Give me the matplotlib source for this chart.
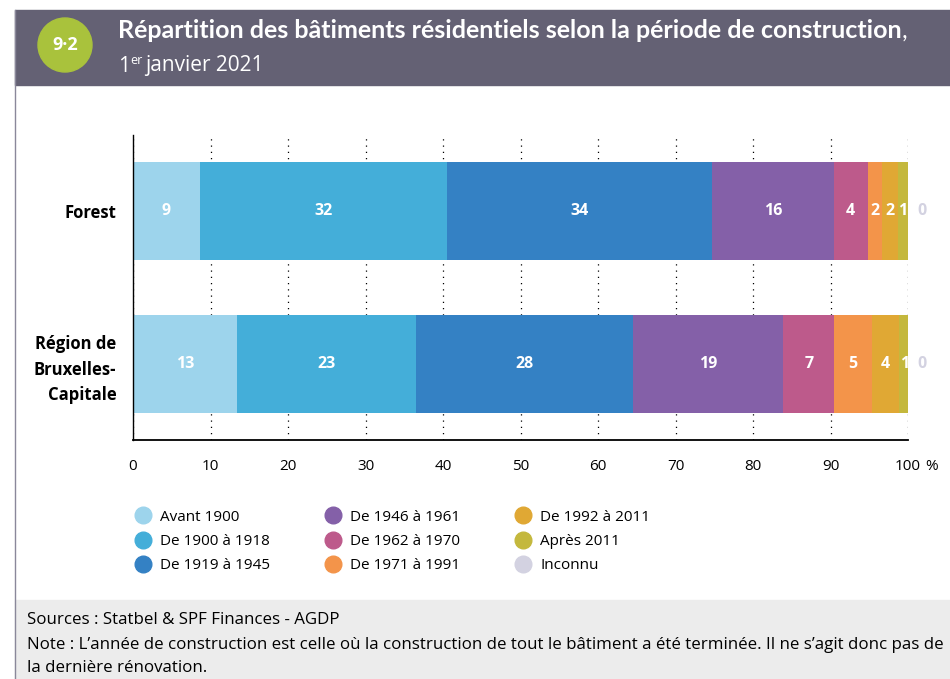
import matplotlib.pyplot as plt
from matplotlib.patches import Rectangle, Ellipse
from matplotlib.lines import Line2D

# Part des bâtiments résidentiels (%) par période de construction
territoires = ["Région de\nBruxelles-\nCapitale", "Forest"]
periodes = ["Avant 1900", "De 1900 à 1918", "De 1919 à 1945",
            "De 1946 à 1961", "De 1962 à 1970", "De 1971 à 1991",
            "De 1992 à 2011", "Après 2011", "Inconnu"]
forest = [8.6, 31.9, 34.2, 15.7, 4.4, 1.8, 2.1, 1.3, 0.0]
region = [13.4, 23.1, 28.0, 19.4, 6.6, 4.8, 3.6, 1.3, 0.0]
couleurs = ["#9dd4ec", "#44aed9", "#3481c4", "#8460a8", "#bd5a8b",
            "#f3944a", "#e0a834", "#c4b83d", "#d3d2e1"]
graduations = [0, 10, 20, 30, 40, 50, 60, 70, 80, 90, 100]

plt.rcParams['font.family'] = ['Open Sans', 'DejaVu Sans']

fig = plt.figure(figsize=(9.5, 6.79), dpi=100)

# bandeau du titre, pied de page et bordure gauche
fig.patches.append(Rectangle((15 / 950, 1 - 85 / 679), 1, 75 / 679,
                             transform=fig.transFigure, color="#646174", zorder=0))
fig.patches.append(Rectangle((15 / 950, 0), 1, 79 / 679,
                             transform=fig.transFigure, color="#ececec", zorder=0))
fig.lines.append(Line2D([15 / 950, 15 / 950], [0, 1 - 10 / 679],
                        transform=fig.transFigure, color="#8a889a", lw=1))
fig.patches.append(Ellipse((65 / 950, 1 - 45 / 679), 54 / 950, 54 / 679,
                           transform=fig.transFigure, color="#a9c23c", zorder=2))
fig.text(65 / 950, 1 - 45 / 679, "9·2", color="white", fontsize=13,
         fontweight="bold", ha="center", va="center", zorder=3)

titre = fig.text(118 / 950, 1 - 31 / 679,
                 "Répartition des bâtiments résidentiels selon la période de construction",
                 color="white", fontsize=18, fontweight="bold", va="center",
                 family=["Lato", "DejaVu Sans"])
fig.add_artist(plt.Annotation(",", xy=(1, 0), xycoords=titre, color="white",
                              fontsize=18, va="bottom", ha="left",
                              family=["Lato", "DejaVu Sans"]))
un = fig.text(118 / 950, 1 - 66 / 679, "1", color="white", fontsize=15, va="center")
fig.add_artist(plt.Annotation("er", xy=(1, 0), xycoords=un, xytext=(0.5, 7),
                              textcoords="offset points", color="white",
                              fontsize=9, va="bottom", ha="left"))
fig.add_artist(plt.Annotation("janvier 2021", xy=(1, 0), xycoords=un,
                              xytext=(11, 0), textcoords="offset points",
                              color="white", fontsize=15, va="bottom", ha="left"))

ax = fig.add_axes([133 / 950, 1 - 440 / 679, 775 / 950, 305 / 679])
series = [region, forest]
for i, valeurs in enumerate(series):
    gauche = 0
    for v, c in zip(valeurs, couleurs):
        ax.barh(i, v, left=gauche, height=0.64, color=c, zorder=2)
        if v > 0:
            ax.text(gauche + v / 2, i, f"{v:.0f}", color="white", fontsize=11.5,
                    fontweight="bold", ha="center", va="center", zorder=3)
        gauche += v
    ax.text(101.8, i, f"{valeurs[-1]:.0f}", color=couleurs[-1], fontsize=11.5,
            fontweight="bold", ha="center", va="center")

ax.set_xlim(0, 100)
ax.set_ylim(-0.5, 1.5)
ax.set_xticks(graduations)
ax.set_xticklabels([str(g) for g in graduations])
ax.set_yticks([0, 1])
ax.set_yticklabels(territoires, fontsize=12, fontweight="bold", linespacing=1.55)
ax.tick_params(axis="x", length=0, labelsize=11, pad=14)
ax.tick_params(axis="y", length=0, pad=12)
for t in ax.get_yticklabels():
    t.set_multialignment("right")
fig.canvas.draw()
dernier = ax.xaxis.get_ticklabels()[-1]
ax.annotate("%", xy=(1, 0.5), xycoords=dernier, xytext=(3, 0),
            textcoords="offset points", fontsize=11, va="center", ha="left",
            annotation_clip=False)
ax.grid(axis="x", linestyle=(0, (1, 4)), color="black", lw=0.9)
ax.set_axisbelow(True)
for s in ["top", "right"]:
    ax.spines[s].set_visible(False)
ax.spines["left"].set_linewidth(1)
ax.spines["bottom"].set_linewidth(1.3)

poignees = [Line2D([], [], marker="o", ls="", markersize=12, color=c) for c in couleurs]
fig.legend(poignees, periodes, ncol=3, loc="upper left",
           bbox_to_anchor=(120 / 950, 1 - 496 / 679), frameon=False,
           fontsize=11, handletextpad=0.5, columnspacing=3.55, labelspacing=0.6,
           handlelength=1.2)

fig.text(27 / 950, 1 - 620 / 679, "Sources : Statbel & SPF Finances - AGDP",
         fontsize=12.2, va="center")
fig.text(27 / 950, 1 - 645 / 679,
         "Note : L’année de construction est celle où la construction de tout le bâtiment a été terminée. Il ne s’agit donc pas de",
         fontsize=12.2, va="center")
fig.text(27 / 950, 1 - 668 / 679, "la dernière rénovation.", fontsize=12.2, va="center")

fig.savefig("out.png", dpi=100)
